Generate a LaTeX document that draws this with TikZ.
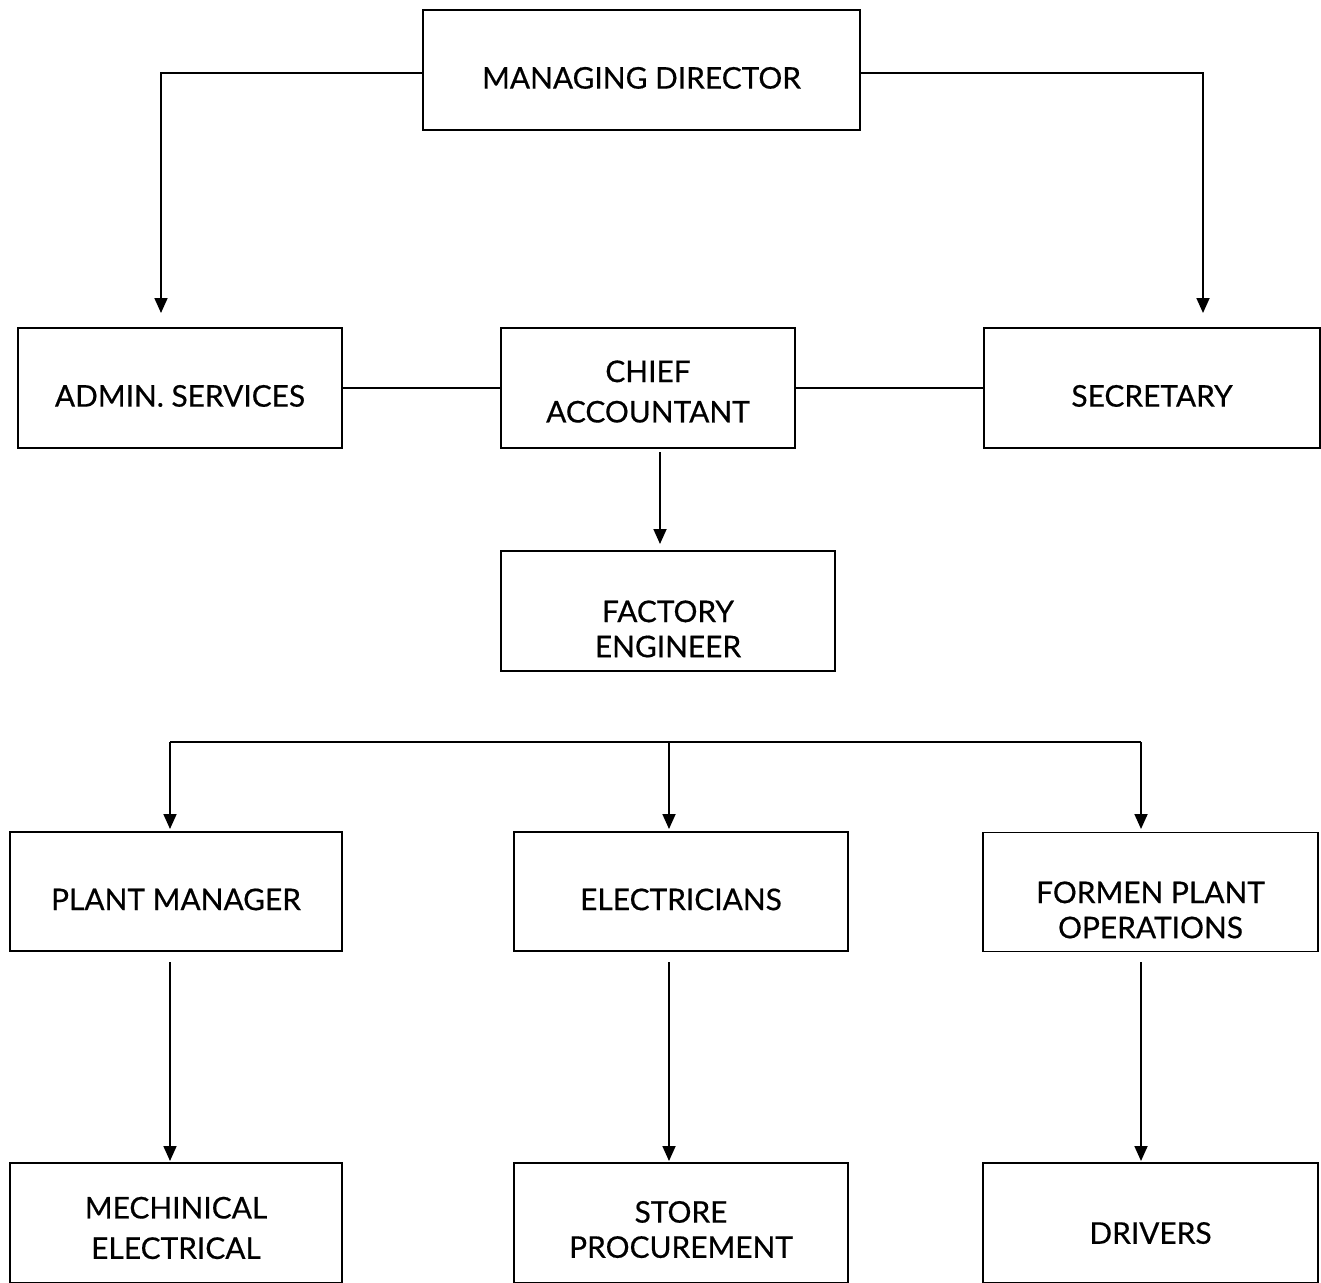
\documentclass[tikz,border=0pt]{standalone}
\usepackage{fontspec}
\setmainfont{Lato}[FakeBold=0.5]
\usepackage{tikz}
\usetikzlibrary{arrows.meta}

\begin{document}
\begin{tikzpicture}[x=0.02cm,y=-0.02cm,
    unit/.style={draw,line width=1.1pt,inner sep=0pt,minimum height=2.4cm,align=center,
        text depth=0pt,text height=21.2pt,font=\fontsize{17}{23}\selectfont},
    tight/.style={font=\fontsize{17}{20}\selectfont},
    link/.style={line width=1pt},
    feed/.style={line width=1pt,-{Triangle[length=0.3cm,width=0.26cm]}}]
    \useasboundingbox (0,0) rectangle (1321,1282);
    \clip (0,0) rectangle (1321,1282);
    % top level
    \node[unit,minimum width=8.74cm] (md) at (641.5,70) {MANAGING DIRECTOR};
    \node[unit,minimum width=6.48cm] (admin) at (180,388) {ADMIN. SERVICES};
    \node[unit,minimum width=5.88cm,text height=39.2pt] (chief) at (648,388) {CHIEF\\ACCOUNTANT};
    \node[unit,minimum width=6.72cm] (sec) at (1152,388) {SECRETARY};
    \node[unit,tight,minimum width=6.68cm,text height=52.6pt] (fact) at (668,611) {FACTORY\\ENGINEER};
    % departments
    \node[unit,minimum width=6.64cm,minimum height=2.38cm] (plant) at (176,891.5) {PLANT MANAGER};
    \node[unit,minimum width=6.68cm,minimum height=2.38cm] (elec) at (681,891.5) {ELECTRICIANS};
    \node[unit,tight,minimum width=6.70cm,minimum height=2.38cm,text height=52.6pt] (formen) at (1150.5,892) {FORMEN PLANT\\OPERATIONS};
    \node[unit,minimum width=6.64cm,text height=40.8pt] (mech) at (176,1223) {MECHINICAL\\ELECTRICAL};
    \node[unit,tight,minimum width=6.68cm,text height=39.6pt] (store) at (681,1223) {STORE\\PROCUREMENT};
    \node[unit,minimum width=6.70cm,text height=23.6pt] (drivers) at (1150.5,1223) {DRIVERS};
    % ends of the connectors
    \coordinate (admTop) at (161,313);
    \coordinate (secTop) at (1203,313);
    \coordinate (chiefOut) at (660,452);
    \coordinate (factTop) at (660,544);
    \coordinate (busL) at (170,742);
    \coordinate (busM) at (669,742);
    \coordinate (busR) at (1141,742);
    \coordinate (plantTop) at (170,829);
    \coordinate (elecTop) at (669,829);
    \coordinate (formenTop) at (1141,829);
    \coordinate (plantOut) at (170,962);
    \coordinate (elecOut) at (669,962);
    \coordinate (formenOut) at (1141,962);
    \coordinate (mechTop) at (170,1161);
    \coordinate (storeTop) at (669,1161);
    \coordinate (driversTop) at (1141,1161);
    % connectors
    \draw[feed] ([yshift=-0.06cm]md.west) -| (admTop);
    \draw[feed] ([yshift=-0.06cm]md.east) -| (secTop);
    \draw[link] (admin.east) -- (chief.west);
    \draw[link] (chief.east) -- (sec.west);
    \draw[feed] (chiefOut) -- (factTop);
    \draw[link] (busL) -- (busR);
    \draw[feed] (busL) -- (plantTop);
    \draw[feed] (busM) -- (elecTop);
    \draw[feed] (busR) -- (formenTop);
    \draw[feed] (plantOut) -- (mechTop);
    \draw[feed] (elecOut) -- (storeTop);
    \draw[feed] (formenOut) -- (driversTop);
\end{tikzpicture}
\end{document}
